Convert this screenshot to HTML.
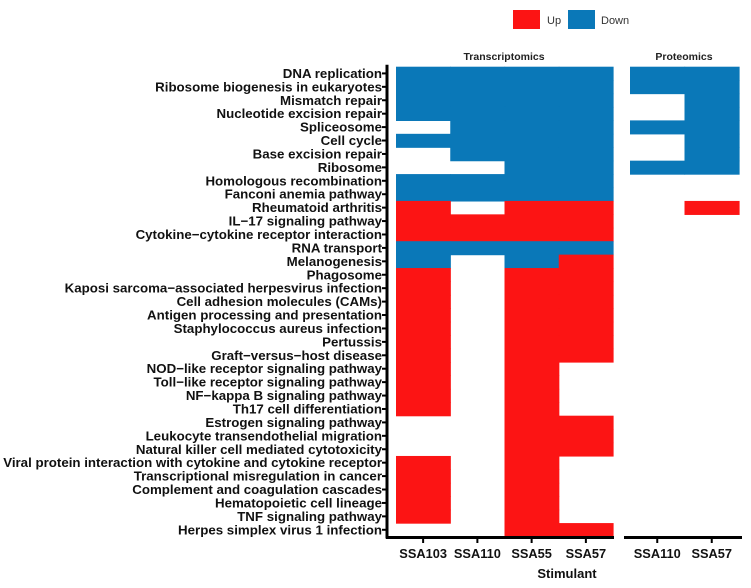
<!DOCTYPE html>
<html><head><meta charset="utf-8"><style>
html,body{margin:0;padding:0;background:#fff;width:751px;height:588px;overflow:hidden}
svg{display:block;font-family:"Liberation Sans",Arial,sans-serif}
</style></head><body>
<svg id="chart" width="751" height="588" viewBox="0 0 751 588" xmlns="http://www.w3.org/2000/svg">
<g>
<rect x="513" y="10" width="27" height="19" fill="#fc1414"/>
<text x="547" y="24" font-size="11" fill="#333">Up</text>
<rect x="568" y="10" width="27" height="19" fill="#0a78b8"/>
<text x="601" y="24" font-size="11" fill="#333">Down</text>
</g>
<text x="504" y="60" font-size="10.5" font-weight="bold" text-anchor="middle" fill="#222">Transcriptomics</text>
<text x="684" y="60" font-size="10.5" font-weight="bold" text-anchor="middle" fill="#222">Proteomics</text>
<g id="cells"></g>
<g id="axes"></g>
<text x="567" y="578" font-size="13" font-weight="bold" text-anchor="middle" fill="#111">Stimulant</text>
</svg>
<script>
const pathways = ["DNA replication","Ribosome biogenesis in eukaryotes","Mismatch repair","Nucleotide excision repair","Spliceosome","Cell cycle","Base excision repair","Ribosome","Homologous recombination","Fanconi anemia pathway","Rheumatoid arthritis","IL\u221217 signaling pathway","Cytokine\u2212cytokine receptor interaction","RNA transport","Melanogenesis","Phagosome","Kaposi sarcoma\u2212associated herpesvirus infection","Cell adhesion molecules (CAMs)","Antigen processing and presentation","Staphylococcus aureus infection","Pertussis","Graft\u2212versus\u2212host disease","NOD\u2212like receptor signaling pathway","Toll\u2212like receptor signaling pathway","NF\u2212kappa B signaling pathway","Th17 cell differentiation","Estrogen signaling pathway","Leukocyte transendothelial migration","Natural killer cell mediated cytotoxicity","Viral protein interaction with cytokine and cytokine receptor","Transcriptional misregulation in cancer","Complement and coagulation cascades","Hematopoietic cell lineage","TNF signaling pathway","Herpes simplex virus 1 infection"];
const transCols = ["SSA103","SSA110","SSA55","SSA57"];
const protCols = ["SSA110","SSA57"];
// D = down, U = up, . = none; one string per pathway, chars per column
const transValues = ["DDDD","DDDD","DDDD","DDDD",".DDD","DDDD",".DDD","..DD","DDDD","DDDD","U.UU","UUUU","UUUU","DDDD","D.DU","U.UU","U.UU","U.UU","U.UU","U.UU","U.UU","U.UU","U.U.","U.U.","U.U.","U.U.","..UU","..UU","..UU","U.U.","U.U.","U.U.","U.U.","U.U.","..UU"];
const protValues = ["DD","DD",".D",".D","DD",".D",".D","DD","..","..",".U","..","..","..","..","..","..","..","..","..","..","..","..","..","..","..","..","..","..","..","..","..","..","..",".."];

const NS="http://www.w3.org/2000/svg";
const top0=66.7, bottom0=536.5;
const rowH=(bottom0-top0)/pathways.length;
const yScale=i=>top0+i*rowH;
const tX0=396, tX1=613, pX0=630, pX1=739;
const tW=(tX1-tX0)/transCols.length, pW=(pX1-pX0)/protCols.length;
const colors={U:"#fc1414",D:"#0a78b8"};
const cells=document.getElementById("cells");
const axes=document.getElementById("axes");
function mk(tag,attrs,parent){const e=document.createElementNS(NS,tag);for(const k in attrs)e.setAttribute(k,attrs[k]);parent.appendChild(e);return e;}
function drawPanel(vals,cols,x0,w){
  vals.forEach((s,i)=>{
    for(let j=0;j<cols.length;j++){
      const v=s[j];
      if(colors[v]){
        const r=mk("rect",{x:x0+j*w,y:yScale(i),width:w+0.6,height:rowH+0.6,fill:colors[v]},cells);
        
        
      }
    }
  });
}
drawPanel(transValues,transCols,tX0,tW);
drawPanel(protValues,protCols,pX0,pW);
const ya=mk("line",{x1:387,y1:top0-2,x2:387,y2:bottom0+2,stroke:"#000","stroke-width":3},axes);


pathways.forEach((p,i)=>{
  const y=yScale(i)+rowH/2;
  const t=mk("line",{x1:382,y1:y,x2:387,y2:y,stroke:"#000","stroke-width":2},axes);
  
  
  const l=mk("text",{x:382,y:y+4.5,"font-size":13.3,"font-weight":"bold","text-anchor":"end",fill:"#111"},axes);
  l.textContent=p;
  
  
});
const xa1=mk("line",{x1:386,y1:537.5,x2:614,y2:537.5,stroke:"#000","stroke-width":3},axes);


const xa2=mk("line",{x1:624,y1:537.5,x2:742,y2:537.5,stroke:"#000","stroke-width":3},axes);


function xTicks(cols,x0,w){
  cols.forEach((c,j)=>{
    const x=x0+j*w+w/2;
    const t=mk("line",{x1:x,y1:537,x2:x,y2:543,stroke:"#000","stroke-width":2},axes);
    
    
    const l=mk("text",{x:x,y:558,"font-size":12.8,"font-weight":"bold","text-anchor":"middle",fill:"#111"},axes);
    l.textContent=c;
    
    
  });
}
xTicks(transCols,tX0,tW);
xTicks(protCols,pX0,pW);
</script>
</body></html>
